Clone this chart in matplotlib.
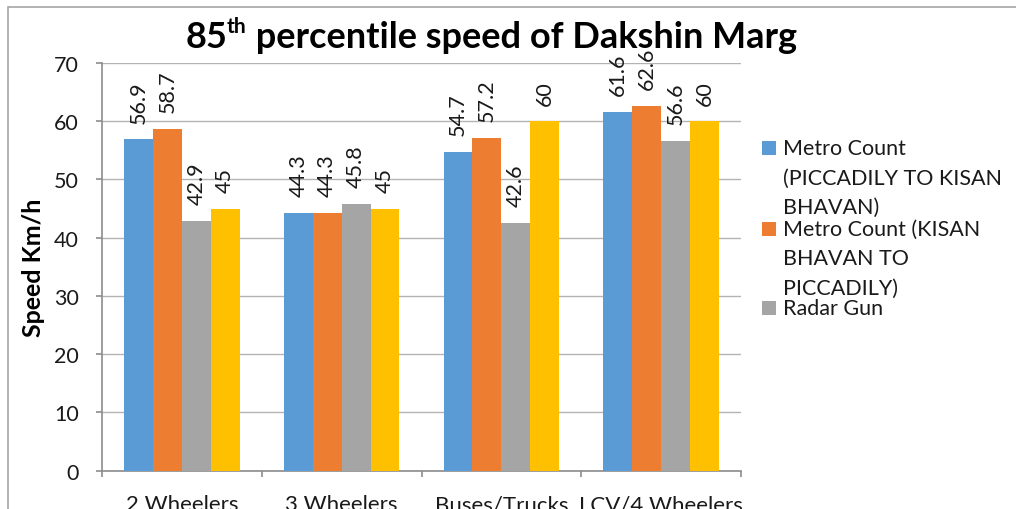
import matplotlib
matplotlib.use('Agg')
import matplotlib.pyplot as plt
from matplotlib.patches import Rectangle
import numpy as np

# ---------------- data ----------------
categories = ['2 Wheelers', '3 Wheelers', 'Buses/Trucks', 'LCV/4 Wheelers']
metro_p2k = [56.9, 44.3, 54.7, 61.6]
metro_k2p = [58.7, 44.3, 57.2, 62.6]
radar_gun = [42.9, 45.8, 42.6, 56.6]
fourth_series = [45, 45, 60, 60]
series_labels = ['Metro Count\n(PICCADILY TO KISAN\nBHAVAN)',
                 'Metro Count (KISAN\nBHAVAN TO\nPICCADILY)',
                 'Radar Gun']
y_ticks = [0, 10, 20, 30, 40, 50, 60, 70]
title_main = '85'
title_sup = 'th'
title_rest = ' percentile speed of Dakshin Marg'
y_label = 'Speed Km/h'

colors = ['#5B9BD5', '#ED7D31', '#A5A5A5', '#FFC000']

# ---------------- figure ----------------
W, H = 1016, 510
FONT = 'Lato'
plt.rcParams['font.family'] = [FONT, 'DejaVu Sans']
fig = plt.figure(figsize=(W / 100, H / 100), dpi=100)
fig.patch.set_facecolor('white')

# outer chart frame
fig.patches.append(Rectangle((7.5 / W, -0.2), 1.2, 1.2 - 8 / H,
                             transform=fig.transFigure, fill=False,
                             edgecolor='#A6A6A6', linewidth=1.2))

ax = fig.add_axes([102 / W, 1 - 471.7 / H, 639 / W, 407.7 / H])
x = np.arange(len(categories))
w = 0.181
series = [metro_p2k, metro_k2p, radar_gun, fourth_series]
for i, (vals, c) in enumerate(zip(series, colors)):
    bars = ax.bar(x + (i - 1.5) * w, vals, w, color=c, zorder=3, linewidth=0)
    ax.bar_label(bars, labels=[f'{v:g}' for v in vals], rotation=90,
                 padding=12, fontsize=15.5, color='#1a1a1a')

ax.set_xlim(-0.5, len(categories) - 0.5)
ax.set_ylim(0, 70)
ax.set_yticks(y_ticks)
ax.yaxis.grid(True, color='#B3B3B3', linewidth=1, zorder=0)
ax.set_axisbelow(True)
for s in ['top', 'right']:
    ax.spines[s].set_visible(False)
for s in ['left', 'bottom']:
    ax.spines[s].set_color('#8C8C8C')
    ax.spines[s].set_linewidth(1.2)

ax.set_xticks(x)
ax.set_xticklabels(categories)
ax.set_xticks(np.arange(-0.5, len(categories)), minor=True)
ax.tick_params(axis='x', which='major', length=0, pad=17, labelsize=16,
               labelcolor='#1a1a1a')
ax.tick_params(axis='x', which='minor', length=4.5, width=1.2, color='#8C8C8C',
               direction='out')
ax.tick_params(axis='y', length=4.5, width=1.2, color='#8C8C8C', pad=12,
               labelsize=15.5, labelcolor='#1a1a1a')
ax.set_ylabel(y_label, fontsize=18, fontweight='bold')
ax.yaxis.set_label_coords((45 - 102) / 639, 0.5)

# ---------------- title with superscript ----------------
fig.canvas.draw()
r = fig.canvas.get_renderer()
tsize = 26
t_y = 1 - 48 / H
t1 = fig.text(0, t_y, title_main, fontsize=tsize, fontweight='bold', va='baseline')
t2 = fig.text(0, t_y, title_sup, fontsize=tsize * 0.58, fontweight='bold', va='baseline')
t3 = fig.text(0, t_y, title_rest, fontsize=tsize, fontweight='bold', va='baseline')
w1 = t1.get_window_extent(r).width
w2 = t2.get_window_extent(r).width
w3 = t3.get_window_extent(r).width
total = w1 + w2 + w3
x0 = 491 - total / 2
t1.set_x(x0 / W)
t2.set_x((x0 + w1) / W)
t2.set_y(t_y + 15 / H)
t3.set_x((x0 + w1 + w2) / W)

# ---------------- legend (manual, first-line aligned) ----------------
entry_y = [149, 230, 309]
line_step = 29.5
for lab, c, y0 in zip(series_labels, colors, entry_y):
    fig.patches.append(Rectangle((762 / W, 1 - (y0 + 7) / H), 14 / W, 14 / H,
                                 transform=fig.transFigure, facecolor=c,
                                 edgecolor='none'))
    for k, line in enumerate(lab.split('\n')):
        fig.text(783 / W, 1 - (y0 + k * line_step) / H, line, fontsize=15.5,
                 va='center', ha='left', color='#1a1a1a')

fig.savefig('out.png', dpi=100, facecolor='white')
